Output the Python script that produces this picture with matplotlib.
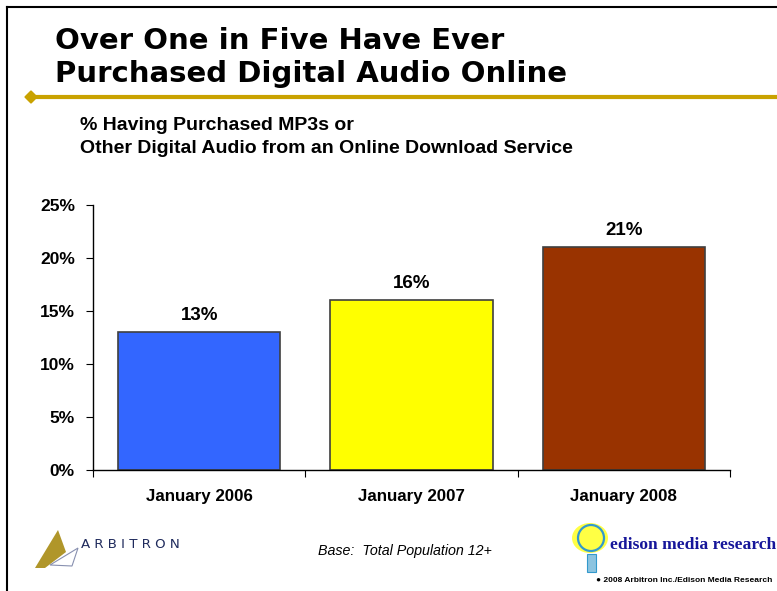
import matplotlib
matplotlib.use("Agg")
import matplotlib.pyplot as plt
from matplotlib.patches import Polygon, Rectangle, Ellipse
from matplotlib.lines import Line2D

categories = ["January 2006", "January 2007", "January 2008"]
values = [13, 16, 21]
colors = ["#3366FF", "#FFFF00", "#993300"]
yticks = [0, 5, 10, 15, 20, 25]

W, H = 777, 591
fig = plt.figure(figsize=(W / 100, H / 100), dpi=100)
fig.patch.set_facecolor("white")

def fx(px):
    return px / W

def fy(py):
    return 1 - py / H

# frame border
fig.add_artist(Line2D([fx(7), fx(7)], [fy(7), fy(H + 5)], color="black", lw=1.5))
fig.add_artist(Line2D([fx(7), fx(W + 5)], [fy(7), fy(7)], color="black", lw=1.5))

# title
title_lines = ["Over One in Five Have Ever", "Purchased Digital Audio Online"]
for line, base in zip(title_lines, [49, 82]):
    fig.text(fx(55), fy(base), line, fontsize=21, fontweight="bold",
             family=["DejaVu Sans"], va="baseline", ha="left", color="black")

# gold rule with diamond
gold = "#C9A200"
fig.add_artist(Line2D([fx(38), fx(W)], [fy(97), fy(97)], color=gold, lw=3))
fig.add_artist(Polygon([[fx(25), fy(97)], [fx(31), fy(91)], [fx(37), fy(97)], [fx(31), fy(103)]],
                       closed=True, color=gold, transform=fig.transFigure))

# subtitle
sub_lines = ["% Having Purchased MP3s or", "Other Digital Audio from an Online Download Service"]
for line, base in zip(sub_lines, [130, 153]):
    fig.text(fx(80), fy(base), line, fontsize=14, fontweight="bold",
             family=["Liberation Sans", "DejaVu Sans"], va="baseline", ha="left")

# axes
ax = fig.add_axes([fx(93), fy(470), fx(730) - fx(93), fy(205) - fy(470)])
x = list(range(len(categories)))
bars = ax.bar(x, values, width=0.765, color=colors, edgecolor="#404040", linewidth=1.2, zorder=2)
ax.set_xlim(-0.5, 2.5)
ax.set_ylim(0, 25)
ax.set_yticks(yticks)
ax.set_yticklabels([f"{v}%" for v in yticks], fontsize=12.5, fontweight="bold",
                   family=["Liberation Sans", "DejaVu Sans"])
ax.set_xticks([-0.5, 0.5, 1.5, 2.5], minor=False)
ax.set_xticklabels([])
ax.set_xticks(x, minor=True)
ax.set_xticklabels(categories, minor=True, fontsize=12.2, fontweight="bold",
                   family=["Liberation Sans", "DejaVu Sans"])
ax.tick_params(axis="x", which="minor", length=0, pad=14)
ax.tick_params(axis="x", which="major", length=5, direction="out")
ax.tick_params(axis="y", length=5, direction="out", pad=8)
for s in ["top", "right"]:
    ax.spines[s].set_visible(False)
for s in ["left", "bottom"]:
    ax.spines[s].set_linewidth(1.0)
ax.patch.set_alpha(0)
for xi, v in zip(x, values):
    ax.annotate(f"{v}%", (xi, v), xytext=(0, 8.6), textcoords="offset points",
                ha="center", va="baseline", fontsize=13.5, fontweight="bold",
                family=["Liberation Sans", "DejaVu Sans"])

# Arbitron logo
navy = "#1F2A5C"
fig.add_artist(Polygon([[fx(35), fy(568)], [fx(58), fy(530)], [fx(66), fy(552)], [fx(45), fy(568)]],
                       closed=True, facecolor="#B0962A", edgecolor="none", transform=fig.transFigure))
fig.add_artist(Polygon([[fx(50), fy(565)], [fx(78), fy(548)], [fx(72), fy(566)]],
                       closed=True, facecolor="none", edgecolor="#8890B0", lw=0.8, transform=fig.transFigure))
fig.text(fx(81), fy(544), "A R B I T R O N", fontsize=9.6, color=navy,
         family=["DejaVu Sans"], va="center", ha="left")

# base note
fig.text(fx(318), fy(551), "Base:  Total Population 12+", fontsize=10.3, style="italic",
         family=["Liberation Sans", "DejaVu Sans"], va="center", ha="left")

# Edison logo
fig.add_artist(Ellipse((fx(590), fy(538)), fx(36), 30 / H, angle=0, facecolor="#FFFF44",
                       edgecolor="none", transform=fig.transFigure))
fig.add_artist(Ellipse((fx(591), fy(538)), fx(26), 26 / H, facecolor="none", edgecolor="#3399CC",
                       lw=1.6, transform=fig.transFigure))
fig.add_artist(Rectangle((fx(587), fy(572)), fx(9), 18 / H, facecolor="#8CC4E0", edgecolor="#3399CC",
                         lw=0.8, transform=fig.transFigure))
fig.text(fx(610), fy(545), "edison media research", fontsize=12.6, fontweight="bold", color="#16169A",
         family=["Liberation Serif", "DejaVu Serif"], va="center", ha="left")
fig.text(fx(596), fy(581), "\u25cf 2008 Arbitron Inc./Edison Media Research", fontsize=6.0,
         fontweight="bold", family=["Liberation Sans", "DejaVu Sans"], va="center", ha="left")

fig.savefig("out.png", dpi=100, facecolor="white")
